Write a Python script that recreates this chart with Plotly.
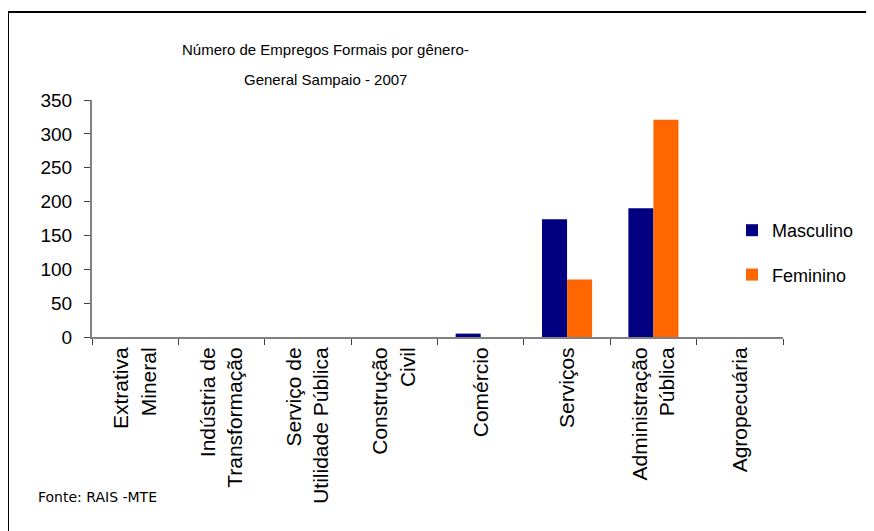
import plotly.graph_objects as go

categories = [
    "Extrativa<br>Mineral",
    "Indústria de<br>Transformação",
    "Serviço de<br>Utilidade Pública",
    "Construção<br>Civil",
    "Comércio",
    "Serviços",
    "Administração<br>Pública",
    "Agropecuária",
]
masculino = [0, 0, 0, 0, 5, 174, 190, 0]
feminino = [0, 0, 0, 0, 0, 85, 321, 0]
y_ticks = [0, 50, 100, 150, 200, 250, 300, 350]

# page has an 8px body margin; work in page coordinates and convert
OFF = 8
W, H = 874 - OFF, 531 - OFF
PLOT_L, PLOT_R, PLOT_T, PLOT_B = 92, 783, 100, 337  # page px
L = PLOT_L - OFF
R = W - (PLOT_R - OFF)
T = PLOT_T - OFF
B = H - (PLOT_B - OFF)

fig = go.Figure()
fig.add_trace(go.Bar(x=categories, y=masculino, name="Masculino",
                     marker=dict(color="#000080", line=dict(width=0)),
                     legendgroup="m"))
fig.add_trace(go.Bar(x=categories, y=feminino, name="Feminino",
                     marker=dict(color="#FF6600", line=dict(width=0)),
                     legendgroup="f"))

pw = PLOT_R - PLOT_L
ph = PLOT_B - PLOT_T
def px(xp):
    return (xp - PLOT_L) / pw
def py(yp):
    return (PLOT_B - yp) / ph

xfont = dict(family="Liberation Sans, Arial, sans-serif", size=21, color="black")
yfont = dict(family="Liberation Sans, Arial, sans-serif", size=19, color="black")

fig.update_layout(
    width=W, height=H,
    margin=dict(l=L, r=R, t=T, b=B),
    paper_bgcolor="white", plot_bgcolor="white",
    barmode="group", bargap=0.42, bargroupgap=0,
    showlegend=True,
    legend=dict(x=px(732), y=py(212), xanchor="left", yanchor="top",
                font=dict(family="Liberation Sans, Arial, sans-serif", size=18, color="black"),
                traceorder="grouped", tracegroupgap=18,
                bgcolor="rgba(0,0,0,0)"),
    xaxis=dict(
        type="category", tickangle=-90, tickfont=xfont,
        showline=True, linecolor="#808080", linewidth=2,
        ticks="outside", ticklen=6, tickcolor="#404040", tickwidth=1,
        tickson="boundaries", showgrid=False, zeroline=False,
        range=[-0.5, 7.5],
    ),
    yaxis=dict(
        range=[0, 350], tickvals=y_ticks, tickfont=yfont,
        showline=True, linecolor="#808080", linewidth=2,
        ticks="outside", ticklen=6, tickcolor="#404040", tickwidth=1,
        ticklabelstandoff=8,
        showgrid=False, zeroline=False,
    ),
)

title_font = dict(family="Liberation Sans, Arial, sans-serif", size=15, color="black")
fig.add_annotation(text="Número de Empregos Formais por gênero-", xref="paper", yref="paper",
                   x=px(325), y=py(50), showarrow=False, font=title_font,
                   xanchor="center", yanchor="middle")
fig.add_annotation(text="General Sampaio - 2007", xref="paper", yref="paper",
                   x=px(325), y=py(80), showarrow=False, font=title_font,
                   xanchor="center", yanchor="middle")
fig.add_annotation(text="Fonte: RAIS -MTE", xref="paper", yref="paper",
                   x=px(36), y=py(497), showarrow=False,
                   font=dict(family="DejaVu Sans, sans-serif", size=14, color="black"),
                   xanchor="left", yanchor="middle")

fig.add_shape(type="rect", xref="paper", yref="paper",
              x0=px(8), y0=py(560), x1=px(900), y1=py(12),
              line=dict(color="black", width=2), fillcolor="rgba(0,0,0,0)", layer="below")

fig.write_html("out.html")
